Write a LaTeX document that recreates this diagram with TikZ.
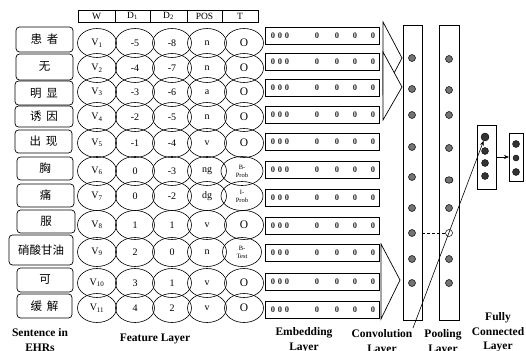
\documentclass[tikz,border=0pt]{standalone}
\usepackage{fontspec}
\setmainfont{Liberation Serif}
\newfontfamily\cjk{Noto Sans CJK SC}
\usetikzlibrary{shapes.geometric,arrows.meta}
\begin{document}
\begin{tikzpicture}[x=1pt,y=-1pt,
  every node/.style={inner sep=0pt, outer sep=0pt},
  wordbox/.style={draw, rounded corners=3.5pt, line width=0.7pt, font=\cjk\fontsize{11.5}{12}\selectfont},
  hdr/.style={draw, line width=0.6pt, minimum height=12pt, font=\fontsize{9.5}{10}\selectfont},
  feat/.style={draw, ellipse, minimum width=39pt, minimum height=29pt, line width=0.6pt, font=\fontsize{10}{11}\selectfont},
  tag/.style={feat, font=\fontsize{11.5}{12}\selectfont},
  smalltag/.style={feat, minimum width=42pt, align=center, font=\fontsize{6.5}{8}\selectfont},
  embbox/.style={draw, line width=0.9pt, minimum width=114pt, minimum height=17.5pt},
  zero/.style={font=\bfseries\fontsize{8.5}{9}\selectfont, text=black!85},
  layerbox/.style={draw, line width=0.7pt},
  tri/.style={draw, fill=white, line width=0.7pt, line join=miter},
  gdot/.style={circle, draw, fill=black!55, minimum size=7pt, line width=0.5pt},
  hdot/.style={circle, draw, fill=white, minimum size=7pt, line width=0.5pt},
  fdot/.style={circle, draw, fill=black!80, minimum size=7pt, line width=0.4pt},
  lbl/.style={align=center, font=\bfseries\fontsize{11.5}{15}\selectfont, anchor=north},
  arr/.style={-{Stealth[length=5pt,width=4pt]}, line width=0.6pt}
]
\useasboundingbox (0,0) rectangle (526,350);
\clip (0,0) rectangle (526,350);

% header
\node[hdr, minimum width=37pt] (hW) at (96.5,16) {W};
\node[hdr, minimum width=35pt] (hD1) at (132.5,16) {D\textsubscript{1}};
\node[hdr, minimum width=37pt] (hD2) at (168.5,16) {D\textsubscript{2}};
\node[hdr, minimum width=35pt] (hP) at (204.5,16) {POS};
\node[hdr, minimum width=36pt] (hT) at (240,16) {T};

% words
\node[wordbox, minimum width=57pt, minimum height=25pt] (w1) at (44.5,39.5) {患\hspace{5pt}者};
\node[wordbox, minimum width=57pt, minimum height=26pt] (w2) at (44.5,67) {无};
\node[wordbox, minimum width=58pt, minimum height=24pt] (w3) at (44,93) {明\hspace{5pt}显};
\node[wordbox, minimum width=58pt, minimum height=21pt] (w4) at (44,116.5) {诱\hspace{5pt}因};
\node[wordbox, minimum width=57pt, minimum height=23pt] (w5) at (43.5,141.5) {出\hspace{5pt}现};
\node[wordbox, minimum width=56pt, minimum height=23pt] (w6) at (45,168.5) {胸};
\node[wordbox, minimum width=57pt, minimum height=23pt] (w7) at (45.5,195.5) {痛};
\node[wordbox, minimum width=58pt, minimum height=23pt] (w8) at (46,221.5) {服};
\node[wordbox, minimum width=64pt, minimum height=30pt] (w9) at (41,250) {硝酸甘油};
\node[wordbox, minimum width=56pt, minimum height=24pt] (w10) at (45,280) {可};
\node[wordbox, minimum width=55pt, minimum height=24pt] (w11) at (44.5,306) {缓\hspace{5pt}解};

% feature ellipses
\foreach \r/\y/\da/\db/\p in {1/43/-5/-8/n, 2/68/-4/-7/n, 3/92/-3/-6/a, 4/117/-2/-5/n, 5/143/-1/-4/v, 6/171/0/-3/ng, 7/196/0/-2/dg, 8/225/1/1/v, 9/252/2/0/n, 10/283/3/1/v, 11/308/4/2/v} {
  \node[feat] (v\r) at (97,\y) {V\textsubscript{\r}};
  \node[feat] (d\r) at (135,\y) {\da};
  \node[feat] (g\r) at (172,\y) {\db};
  \node[feat] (p\r) at (207,\y) {\p};
}
\foreach \r/\y in {1/43, 2/68, 3/92, 4/117, 5/143, 8/225, 10/283, 11/308}
  \node[tag] (t\r) at (244,\y) {O};
\node[smalltag] (t6) at (242,171) {B-\\Prob};
\node[smalltag] (t7) at (242,196) {I-\\Prob};
\node[smalltag, minimum width=39pt] (t9) at (242,252) {B-\\Test};

% embedding boxes
\foreach \i/\c in {1/36,2/62,3/88,4/115,5/142,6/170,7/198,8/226,9/253,10/282,11/310} {
  \node[embbox] (e\i) at (322,\c) {};
  \foreach \k/\zx in {1/273,2/280,3/287,4/317,5/337,6/355,7/373}
    \node[zero] (z\i-\k) at (\zx,\c) {0};
}

% convolution windows
\draw[tri] (383,22) -- (402,58) -- (383,94) -- cycle;
\draw[tri] (383,52) -- (402,87) -- (383,120) -- cycle;
\draw[tri] (381,244) -- (400,280) -- (381,319) -- cycle;

% convolution & pooling layers
\node[layerbox, minimum width=19pt, minimum height=295pt] (conv) at (412.5,172.5) {};
\node[layerbox, minimum width=20pt, minimum height=295pt] (pool) at (449,172.5) {};
\foreach \j/\yy in {1/58,2/89,3/115,4/147,5/177,6/208,7/233,8/259,9/283}
  \node[gdot] (c\j) at (412,\yy) {};
\foreach \j/\yy in {1/59,2/90,3/115,4/148,6/208,8/259,9/283}
  \node[gdot] (q\j) at (449,\yy) {};
\node[gdot, ellipse, minimum width=8pt, minimum height=6.5pt] (q5) at (449,180) {};
\node[hdot] (q7) at (449,233) {};
\draw[line width=0.6pt, dash pattern=on 3pt off 2pt] (conv.east |- q7) -- (q7);

% fully connected layers
\node[layerbox, minimum width=19pt, minimum height=64pt] (fc1) at (486.5,157) {};
\node[layerbox, minimum width=14pt, minimum height=48pt] (fc2) at (516,157) {};
\node[fdot, minimum size=8pt] (f1) at (485,137) {};
\node[fdot] (f2) at (485,151) {};
\node[fdot] (f3) at (485,163) {};
\node[fdot] (f4) at (485,176) {};
\node[fdot] (k1) at (516,144) {};
\node[fdot, minimum size=6pt] (k2) at (516,158) {};
\node[fdot] (k3) at (516,172) {};
\draw[arr] (fc1.east) -- (fc2.west);

\coordinate (ls) at (413,328);
\draw[arr] (ls) -- (f1);

% labels
\node[lbl] (l1) at (40,329) {Sentence in\\EHRs};
\node[lbl] (l2) at (155,334) {Feature Layer};
\node[lbl] (l3) at (304,328) {Embedding\\Layer};
\node[lbl] (l4) at (382,330) {Convolution\\Layer};
\node[lbl] (l5) at (443,330) {Pooling\\Layer};
\node[lbl, font=\bfseries\fontsize{11.5}{14.5}\selectfont] (l6) at (498,313) {Fully\\Connected\\Layer};
\end{tikzpicture}
\end{document}
